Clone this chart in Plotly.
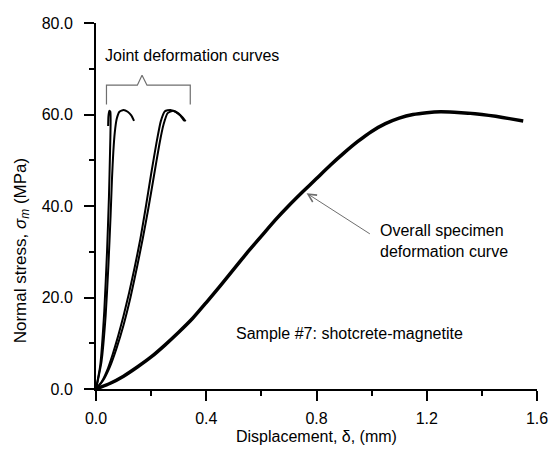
import plotly.graph_objects as go

# ---------------- data ----------------
overall_x = [0, 0.05, 0.1, 0.15, 0.2, 0.25, 0.3, 0.35, 0.4, 0.45, 0.5, 0.55, 0.6, 0.65,
             0.7, 0.75, 0.8, 0.85, 0.9, 0.95, 1.0, 1.05, 1.1, 1.15, 1.2, 1.25, 1.3,
             1.35, 1.4, 1.45, 1.5, 1.55]
overall_y = [0, 1.2, 2.8, 4.8, 7.0, 9.6, 12.4, 15.4, 18.9, 22.5, 26.2, 29.9, 33.4, 36.9,
             40.1, 43.1, 46.0, 48.9, 51.6, 54.1, 56.3, 58.0, 59.2, 60.0, 60.4, 60.6, 60.5,
             60.3, 60.0, 59.6, 59.1, 58.6]

joint1a_x = [0, 0.015, 0.03, 0.04, 0.047, 0.051, 0.053, 0.052, 0.048, 0.045, 0.044]
joint1a_y = [0, 5, 17, 30, 42, 52, 58, 60.6, 60.8, 59.5, 57.5]

joint1b_x = [0, 0.02, 0.035, 0.045, 0.053, 0.058, 0.063, 0.068, 0.075, 0.085, 0.1,
             0.115, 0.128, 0.138]
joint1b_y = [0, 6, 16, 27, 38, 46, 52, 56, 59, 60.6, 61, 60.6, 59.8, 58.6]

joint2a_x = [0, 0.02, 0.04, 0.06, 0.08, 0.10, 0.12, 0.14, 0.16, 0.18, 0.20, 0.22,
             0.235, 0.25, 0.27, 0.29, 0.305, 0.32]
joint2a_y = [0, 1.5, 4, 7.5, 11.5, 16, 21, 26.5, 32.5, 39.5, 47, 54, 58.5, 60.7, 61,
             60.5, 59.8, 58.6]

joint2b_x = [0, 0.025, 0.05, 0.075, 0.10, 0.125, 0.15, 0.17, 0.19, 0.21, 0.23, 0.245,
             0.26, 0.28, 0.30, 0.315, 0.325]
joint2b_y = [0, 1.8, 4.8, 9, 14, 20, 27, 33, 39.5, 46.5, 53.5, 57.8, 60.3, 60.8, 60.2,
             59.3, 58.5]

bracket_x = [0.038, 0.038, 0.150, 0.167, 0.185, 0.342, 0.342]
bracket_y = [62.2, 66.4, 66.4, 68.6, 66.4, 66.4, 62.2]

x_ticks = [0.0, 0.4, 0.8, 1.2, 1.6]
y_ticks = [0.0, 20.0, 40.0, 60.0, 80.0]

FONT = "Liberation Sans, Arial, Helvetica, sans-serif"

fig = go.Figure()

for jx, jy in [(joint1a_x, joint1a_y), (joint1b_x, joint1b_y),
               (joint2a_x, joint2a_y), (joint2b_x, joint2b_y)]:
    fig.add_trace(go.Scatter(x=jx, y=jy, mode="lines",
                             line=dict(color="black", width=2, shape="spline", smoothing=0.5),
                             hoverinfo="skip", showlegend=False))

fig.add_trace(go.Scatter(x=overall_x, y=overall_y, mode="lines",
                         line=dict(color="black", width=3.5, shape="spline", smoothing=0.5),
                         hoverinfo="skip", showlegend=False))

fig.add_trace(go.Scatter(x=bracket_x, y=bracket_y, mode="lines",
                         line=dict(color="#6e6e6e", width=1.2),
                         hoverinfo="skip", showlegend=False))

annotations = [
    dict(text="Joint deformation curves", x=0.025, y=72.8, xref="x", yref="y",
         xanchor="left", yanchor="middle", showarrow=False,
         font=dict(size=16, color="black", family=FONT)),
    dict(text="Overall specimen<br>deformation curve", x=1.023, y=32.3, xref="x", yref="y",
         xanchor="left", yanchor="middle", align="left", showarrow=False,
         font=dict(size=16, color="black", family=FONT)),
    dict(text="", x=0.764, y=42.8, ax=0.999, ay=33.7, xref="x", yref="y",
         axref="x", ayref="y", showarrow=True, arrowhead=5, arrowsize=1.6,
         arrowwidth=1, arrowcolor="#6e6e6e", standoff=0),
    dict(text="Sample #7: shotcrete-magnetite", x=0.5, y=12.2, xref="x", yref="y",
         xanchor="left", yanchor="middle", showarrow=False,
         font=dict(size=16, color="black", family=FONT)),
    dict(text="Displacement, \u03b4, (mm)", x=0.8, y=-0.131, xref="x", yref="paper",
         xanchor="center", yanchor="middle", showarrow=False,
         font=dict(size=16, color="black", family=FONT)),
    dict(text="Normal stress, <i>\u03c3<sub>m</sub></i> (MPa)", x=-0.169, y=30.2,
         xref="paper", yref="y", xanchor="center", yanchor="middle", textangle=-90,
         showarrow=False, font=dict(size=17, color="black", family=FONT)),
]

fig.update_layout(
    width=560, height=449,
    margin=dict(l=96, r=12, t=23, b=60),
    paper_bgcolor="white", plot_bgcolor="white",
    font=dict(family=FONT, size=16, color="black"),
    annotations=annotations,
    showlegend=False,
)

fig.update_xaxes(range=[0, 1.6], tickvals=x_ticks, ticktext=[f"{v:.1f}" for v in x_ticks],
                 showgrid=False, zeroline=False, showline=True, linecolor="black",
                 linewidth=2, ticks="outside", ticklen=10, tickwidth=1.5, tickcolor="black",
                 ticklabelstandoff=4,
                 minor=dict(tickvals=[0.2, 0.6, 1.0, 1.4], ticks="outside", ticklen=5,
                            tickwidth=1.5, tickcolor="black", showgrid=False))
fig.update_yaxes(range=[0, 80], tickvals=y_ticks, ticktext=[f"{v:.1f}" for v in y_ticks],
                 showgrid=False, zeroline=False, showline=True, linecolor="black",
                 linewidth=2, ticks="outside", ticklen=10, tickwidth=1.5, tickcolor="black",
                 ticklabelstandoff=8,
                 minor=dict(tickvals=[10, 30, 50, 70], ticks="outside", ticklen=5,
                            tickwidth=1.5, tickcolor="black", showgrid=False))

fig.write_html("out.html")
